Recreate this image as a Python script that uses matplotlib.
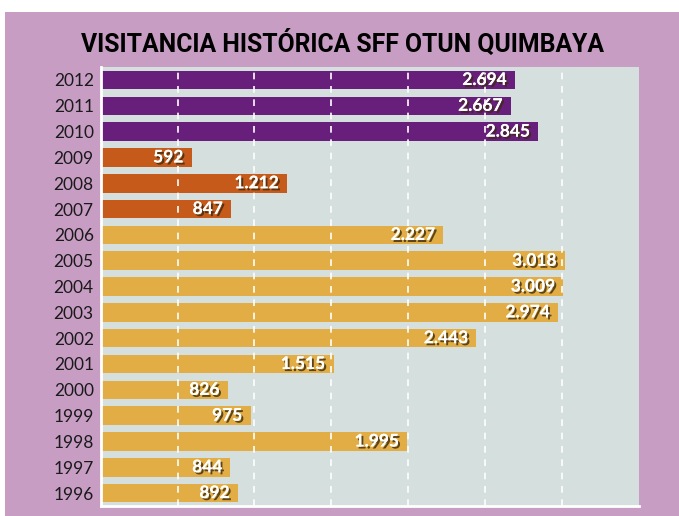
import matplotlib.pyplot as plt
import matplotlib.patheffects as pe
from matplotlib.patches import Rectangle

years = ["1996", "1997", "1998", "1999", "2000", "2001", "2002", "2003", "2004",
         "2005", "2006", "2007", "2008", "2009", "2010", "2011", "2012"]
visitas = [892, 844, 1995, 975, 826, 1515, 2443, 2974, 3009,
           3018, 2227, 847, 1212, 592, 2845, 2667, 2694]
etiquetas = ["892", "844", "1.995", "975", "826", "1.515", "2.443", "2.974", "3.009",
             "3.018", "2.227", "847", "1.212", "592", "2.845", "2.667", "2.694"]

amarillo = "#E3AD45"
naranja = "#C65A1B"
morado = "#671F7B"
colores = [amarillo] * 11 + [naranja] * 3 + [morado] * 3

fig = plt.figure(figsize=(6.79, 5.16), dpi=100)
fig.patch.set_facecolor("white")
fig.patches.append(Rectangle((5 / 679, 0), 1, 1 - 12 / 516, transform=fig.transFigure,
                             facecolor="#C89DC4", edgecolor="none", zorder=-1))

ax = fig.add_axes([0.1483, 0.0194, 0.941 - 0.1483, 0.870 - 0.0194])
ax.set_facecolor("#D5DFDE")

pos = list(range(len(years)))
ax.barh(pos, visitas, height=0.72, color=colores, zorder=2)

ax.set_xlim(0, 3500)
ax.set_ylim(-0.5, len(years) - 0.5)
ax.set_xticks(range(500, 3500, 500))
ax.xaxis.grid(True, color="white", linestyle=(0, (4, 4)), linewidth=1.2, zorder=3)
ax.set_axisbelow(False)
ax.tick_params(axis="x", length=0, labelbottom=False)
ax.tick_params(axis="y", length=0, pad=5)
ax.set_yticks(pos)
ax.set_yticklabels(years, fontsize=12.5, family="Lato", color="#1a1a1a")

for s in ["top", "right"]:
    ax.spines[s].set_visible(False)
for s in ["left", "bottom"]:
    ax.spines[s].set_color("white")
    ax.spines[s].set_linewidth(2)
    ax.spines[s].set_zorder(4)

for p, v, t in zip(pos, visitas, etiquetas):
    ax.annotate(t, (v, p), xytext=(-6, 0), textcoords="offset points",
                ha="right", va="center", color="white", fontsize=12.5,
                fontweight="bold", family="Lato", zorder=5,
                path_effects=[pe.withSimplePatchShadow(offset=(1.5, -1.5), shadow_rgbFace="#3a2a10", alpha=0.8),
                              pe.Normal()])

fig.text(0.505, 0.915, "VISITANCIA HISTÓRICA SFF OTUN QUIMBAYA", ha="center", va="center",
         fontsize=17.8, fontweight="bold", family="Roboto", color="black")

fig.savefig("out.png", dpi=100)
